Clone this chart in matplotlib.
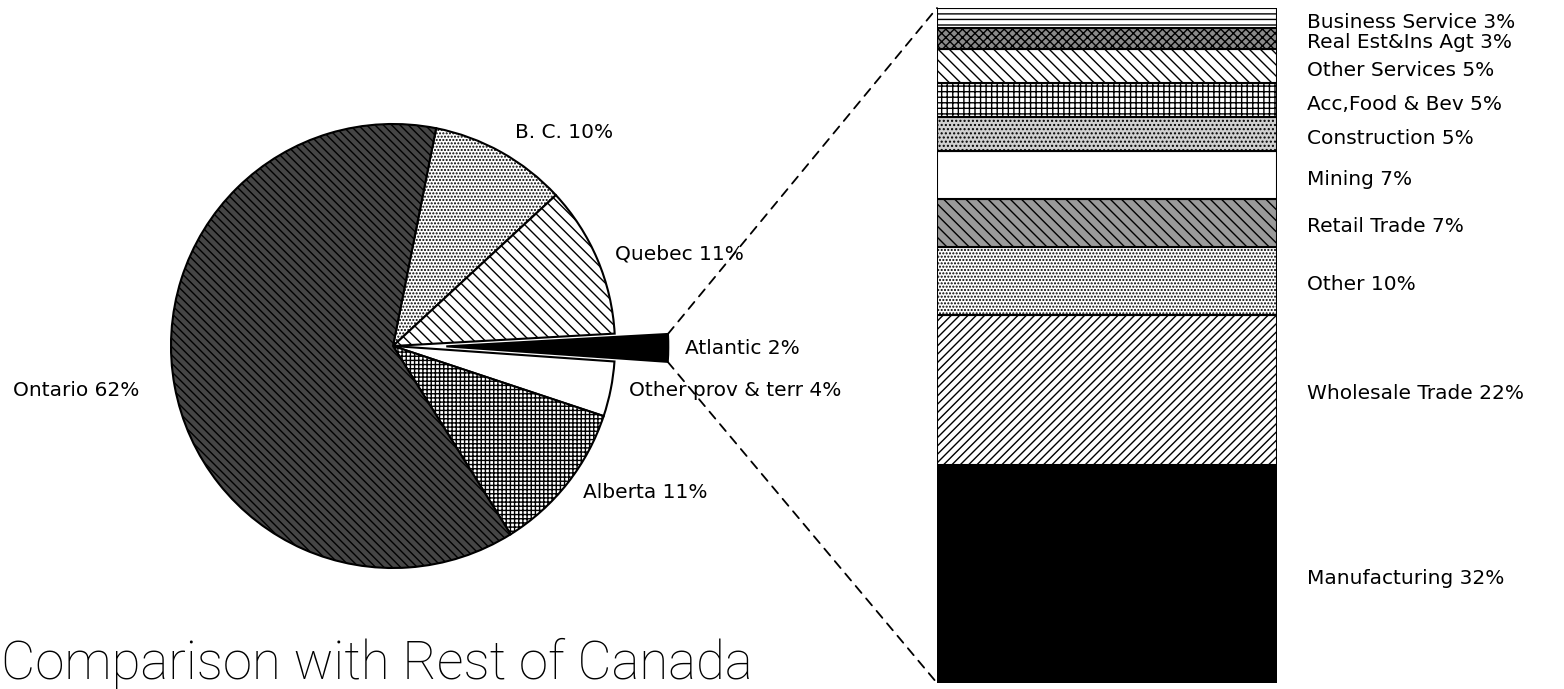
import matplotlib
matplotlib.use('Agg')
import matplotlib.pyplot as plt
from matplotlib.patches import ConnectionPatch
import numpy as np

# Provincial shares (pie), clockwise from the top
provinces = ['B. C.', 'Quebec', 'Atlantic', 'Other prov & terr', 'Alberta', 'Ontario']
prov_share = [10, 11, 2, 4, 11, 62]

# Industry breakdown (stacked bar), bottom to top
industries = ['Manufacturing', 'Wholesale Trade', 'Other', 'Retail Trade', 'Mining',
              'Construction', 'Acc,Food & Bev', 'Other Services', 'Real Est&Ins Agt',
              'Business Service']
ind_share = [32, 22, 10, 7, 7, 5, 5, 5, 3, 3]

plt.rcParams['hatch.linewidth'] = 1.0
plt.rcParams['font.family'] = ['DejaVu Sans']

W, H = 1564, 689
fig = plt.figure(figsize=(W / 100, H / 100), dpi=100)
ax = fig.add_axes([0, 0, 1, 1])

# pie (explode is in data units, so scale it by the radius)
pie_center = (393, H - 346)
pie_r = 222
explode = [0, 0, 0.24 * pie_r, 0, 0, 0]
wedges, _ = ax.pie(prov_share, startangle=78.8, counterclock=False, explode=explode,
                   center=pie_center, radius=pie_r, frame=True,
                   wedgeprops=dict(edgecolor='black', linewidth=1.5))
ax.set_xlim(0, W)
ax.set_ylim(0, H)
ax.set_aspect('equal')
ax.axis('off')

pie_styles = [('white', '.....'), ('white', '\\\\\\'), ('black', None),
              ('white', None), ('white', '++++'), ('#454545', '\\\\\\\\')]
for w, (fc, hatch) in zip(wedges, pie_styles):
    w.set_facecolor(fc)
    if hatch:
        w.set_hatch(hatch)

label_font = dict(fontsize=14.5, color='black', va='center', ha='left')
pie_label_pos = [(515, 133), (615, 254), (685, 348), (629, 391), (583, 492), (13, 391)]
for name, share, (lx, ly) in zip(provinces, prov_share, pie_label_pos):
    ax.text(lx, H - ly, f'{name} {share}%', **label_font)

# stacked bar
total = sum(ind_share)
bx = fig.add_axes([937 / W, (H - 683) / H, 340 / W, 675 / H])
bar_styles = [('black', None), ('white', '////'), ('white', '.....'),
              ('#9a9a9a', '\\\\\\'), ('white', None), ('#d0d0d0', '....'),
              ('white', '+++'), ('white', '\\\\\\'), ('#8a8a8a', 'xxxx'),
              ('white', '---')]
bottom = 0
for name, share, (fc, hatch) in zip(industries, ind_share, bar_styles):
    bx.bar(0, share, width=1, bottom=bottom, color=fc, edgecolor='black',
           linewidth=1.5, hatch=hatch)
    bx.text(1.088, bottom + share / 2 - 0.6, f'{name} {share}%',
            transform=bx.get_yaxis_transform(), **label_font)
    bottom += share
bx.set_xlim(-0.5, 0.5)
bx.set_ylim(0, total)
bx.axis('off')

# dashed lines from the Atlantic wedge to the bar
atl = wedges[2]
cx, cy = atl.center
top_pt = (cx + atl.r * np.cos(np.radians(atl.theta2)), cy + atl.r * np.sin(np.radians(atl.theta2)))
bot_pt = (cx + atl.r * np.cos(np.radians(atl.theta1)), cy + atl.r * np.sin(np.radians(atl.theta1)))
for p, q in [(top_pt, (-0.5, total)), (bot_pt, (-0.5, 0))]:
    con = ConnectionPatch(xyA=p, coordsA=ax.transData, xyB=q, coordsB=bx.transData,
                          linestyle=(0, (5, 4)), linewidth=1.3, color='black')
    fig.add_artist(con)

ax.text(1, H - 664, 'Comparison with Rest of Canada', fontsize=38,
        family=['Roboto', 'DejaVu Sans'], fontweight='light', va='center', ha='left')

fig.savefig('out.png', dpi=100, facecolor='white')
